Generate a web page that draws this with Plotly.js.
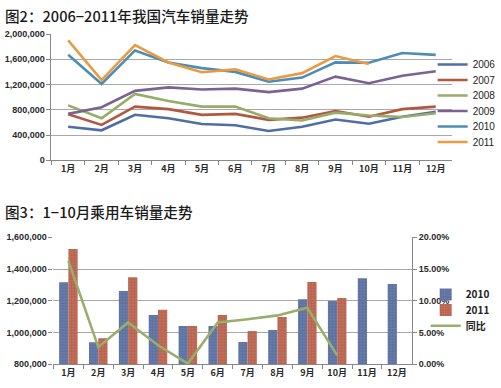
<!DOCTYPE html>
<html><head><meta charset="utf-8">
<script src="https://cdn.plot.ly/plotly-3.0.1.min.js"></script>
<style>html,body{margin:0;padding:0;background:#fff}#c{width:501px;height:388px}</style>
</head><body><div id="c"></div>
<script>
const months = ['1月','2月','3月','4月','5月','6月','7月','8月','9月','10月','11月','12月'];
const years = ['2006','2007','2008','2009','2010','2011'];
const sales2006 = [530000,475000,720000,665000,575000,555000,465000,530000,645000,580000,690000,770000];
const sales2007 = [730000,560000,850000,810000,720000,735000,640000,675000,780000,690000,810000,850000];
const sales2008 = [870000,665000,1050000,940000,850000,850000,665000,630000,755000,710000,685000,745000];
const sales2009 = [735000,840000,1100000,1155000,1120000,1135000,1080000,1135000,1325000,1220000,1340000,1410000];
const sales2010 = [1670000,1210000,1740000,1550000,1460000,1400000,1245000,1310000,1550000,1545000,1700000,1670000];
const sales2011 = [1900000,1270000,1826000,1550000,1395000,1440000,1280000,1380000,1650000,1525000];
const lineColors = ['#4f6ea6','#b3583f','#95ad69','#7b6290','#4c8db6','#e99a42'];

const pcMonths = months;
const pc2010 = [1317000,939000,1262000,1111000,1042000,1042000,941000,1016000,1210000,1199000,1342000,1306000];
const pc2011 = [1527000,964000,1348000,1144000,1042000,1111000,1010000,1098000,1319000,1218000];
const pcYoY = [16.3,2.7,6.6,3.0,0.1,6.6,7.1,7.7,8.9,1.4];
const pcNames = ['2010','2011','同比'];

const W = 501, H = 388;
const fx = p => p / W, fy = p => 1 - p / H;
const tickFont = {family: 'Liberation Sans, Arial, sans-serif', size: 9, color: '#2a2a2a', weight: 'bold'};
const cjkTick = {family: 'Noto Sans CJK SC, sans-serif', size: 9, color: '#2a2a2a', weight: 'bold'};

const layout = {
  width: W, height: H, margin: {l: 0, r: 0, t: 0, b: 0}, paper_bgcolor: '#fff', plot_bgcolor: 'rgba(0,0,0,0)',
  showlegend: true, barmode: 'group', bargap: 0.38, bargroupgap: 0,
  font: {family: 'Noto Sans CJK SC, sans-serif', color: '#222'},
  xaxis: {domain: [fx(52), fx(457)], type: 'category', categoryarray: months, range: [-0.5, 11.5], anchor: 'y',
    showline: true, linecolor: '#888', linewidth: 1, ticks: 'outside', ticklen: 4, tickcolor: '#888', tickson: 'boundaries',
    tickfont: cjkTick, showgrid: false},
  yaxis: {domain: [fy(160.3), fy(34)], range: [0, 2000000], dtick: 400000, tickformat: ',d', anchor: 'x',
    showline: true, linecolor: '#888', ticks: 'outside', ticklen: 4, tickcolor: '#888',
    showgrid: true, gridcolor: '#a8a8a8', gridwidth: 1, zeroline: false, tickfont: tickFont},
  xaxis2: {domain: [fx(54), fx(416)], type: 'category', categoryarray: pcMonths, range: [-0.5, 11.5], anchor: 'y2',
    showline: true, linecolor: '#888', ticks: 'outside', ticklen: 4, tickcolor: '#888', tickson: 'boundaries',
    tickfont: cjkTick, showgrid: false},
  yaxis2: {domain: [fy(364.3), fy(237.3)], range: [800000, 1600000], dtick: 200000, tickformat: ',d', anchor: 'x2',
    showline: false, ticks: 'outside', ticklen: 4, tickcolor: '#888',
    showgrid: true, gridcolor: '#a8a8a8', zeroline: false, tickfont: tickFont},
  yaxis3: {overlaying: 'y2', side: 'right', anchor: 'x2', range: [0, 20], dtick: 5, tickformat: '.2f', ticksuffix: '%',
    showline: true, linecolor: '#888', ticks: 'outside', ticklen: 4, tickcolor: '#888', showgrid: false, zeroline: false, tickfont: tickFont},
  annotations: [
    {text: '图2：2006−2011年我国汽车销量走势', xref: 'paper', yref: 'paper', x: fx(3), y: fy(16), xanchor: 'left', yanchor: 'middle',
     showarrow: false, font: {family: 'Noto Sans CJK SC, sans-serif', size: 14.6, color: '#1a1a1a', weight: 500}},
    {text: '图3：1−10月乘用车销量走势', xref: 'paper', yref: 'paper', x: fx(3), y: fy(212), xanchor: 'left', yanchor: 'middle',
     showarrow: false, font: {family: 'Noto Sans CJK SC, sans-serif', size: 14.6, color: '#1a1a1a', weight: 500}}
  ]
};

const legName = k => (k === 0 ? 'legend' : 'legend' + (k + 1));
const topLegendY = [64.5, 80, 95.5, 111, 126.5, 142];
const allSales = [sales2006, sales2007, sales2008, sales2009, sales2010, sales2011];
const traces = [];
allSales.forEach((s, i) => {
  traces.push({type: 'scatter', mode: 'lines', name: years[i], x: months.slice(0, s.length), y: s,
    line: {color: lineColors[i], width: 2.6}, xaxis: 'x', yaxis: 'y', legend: legName(i)});
  layout[legName(i)] = {x: fx(437), y: fy(topLegendY[i]), xanchor: 'left', yanchor: 'middle', bgcolor: 'rgba(0,0,0,0)',
    font: {family: 'Liberation Sans, Arial, sans-serif', size: 10, color: '#222'}};
});

const botLegendY = [294.5, 310, 325.7];
traces.push({type: 'bar', name: pcNames[0], x: pcMonths, y: pc2010, xaxis: 'x2', yaxis: 'y2', legend: legName(6),
  marker: {color: '#5a6e9e', line: {width: 0}, pattern: {shape: '.', fillmode: 'overlay', fgcolor: '#8c9cc4', size: 3, solidity: 0.35}}});
traces.push({type: 'bar', name: pcNames[1], x: pcMonths.slice(0, pc2011.length), y: pc2011, xaxis: 'x2', yaxis: 'y2', legend: legName(7),
  marker: {color: '#b5604b', line: {width: 0}, pattern: {shape: '.', fillmode: 'overlay', fgcolor: '#d9998a', size: 3, solidity: 0.35}}});
traces.push({type: 'scatter', mode: 'lines', name: pcNames[2], x: pcMonths.slice(0, pcYoY.length), y: pcYoY, xaxis: 'x2', yaxis: 'y3', legend: legName(8),
  line: {color: '#9aae6b', width: 2.6}});
[6, 7, 8].forEach((k, j) => {
  layout[legName(k)] = {x: fx(430), y: fy(botLegendY[j]), xanchor: 'left', yanchor: 'middle', bgcolor: 'rgba(0,0,0,0)',
    font: {family: 'Noto Sans CJK SC, sans-serif', size: 10, color: '#222', weight: 'bold'}};
});

Plotly.newPlot('c', traces, layout, {displayModeBar: false, staticPlot: true});
</script></body></html>
